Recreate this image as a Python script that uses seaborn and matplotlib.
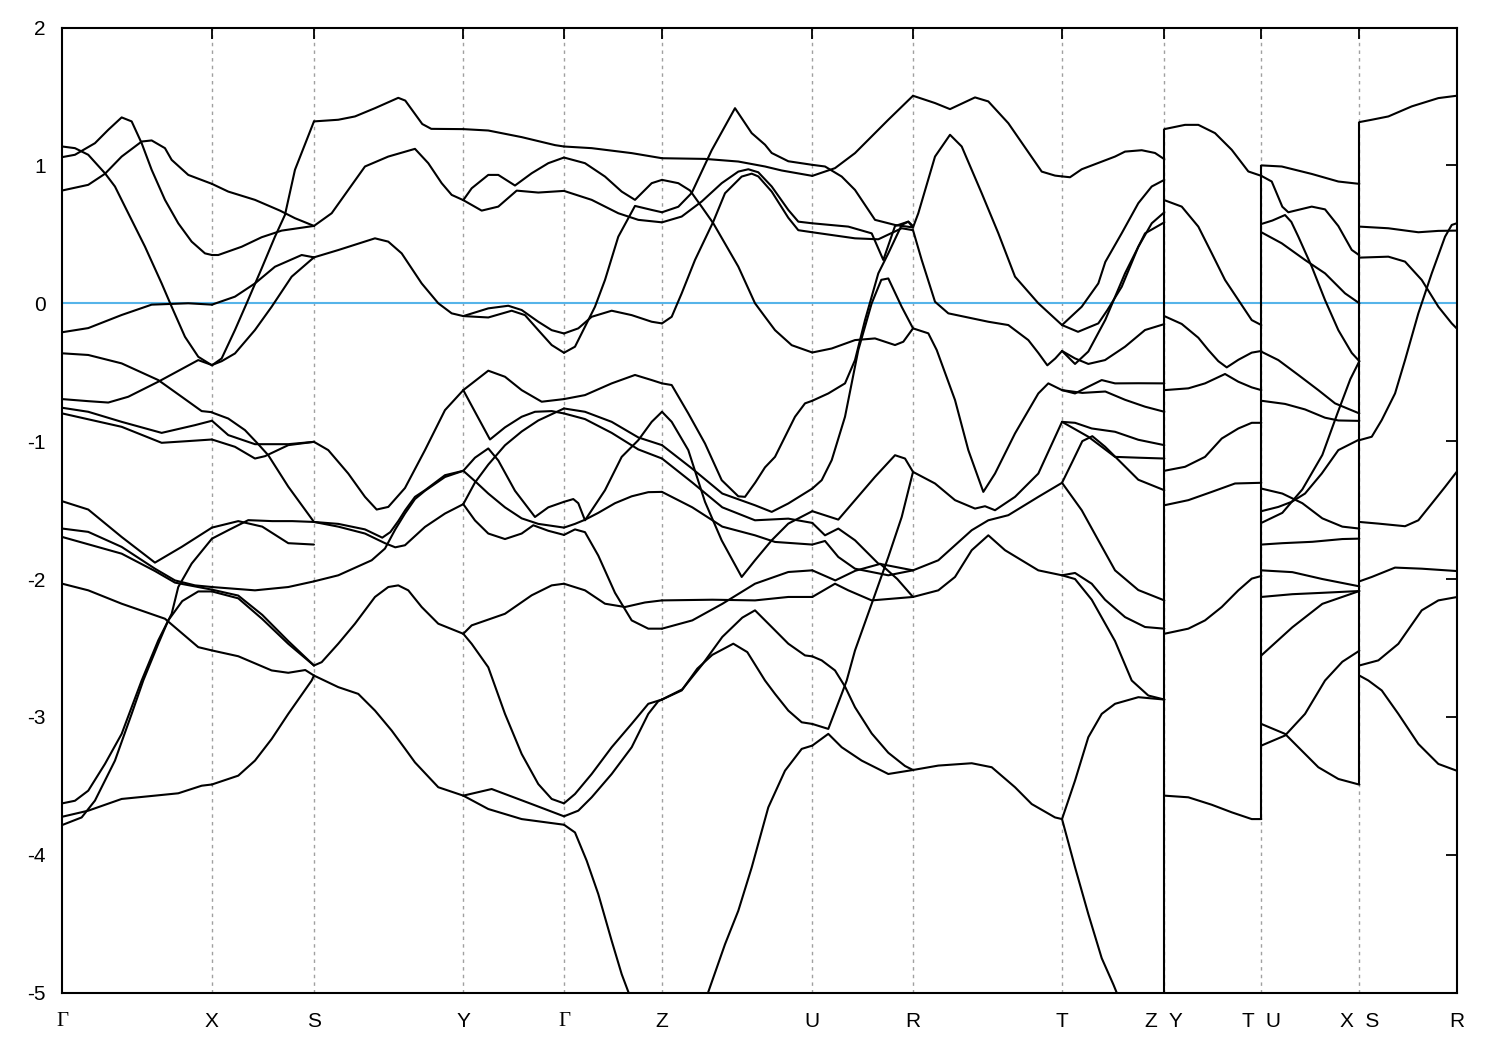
import matplotlib
matplotlib.use("Agg")
import matplotlib.pyplot as plt
import seaborn as sns
import pandas as pd

# high-symmetry points along the k path
sym_k = [0.0, 1.497, 2.517, 4.010, 5.017, 5.997, 7.500, 8.507, 9.997, 11.020, 11.990, 12.970, 13.943]
sym_labels = ["Γ", "X", "S", "Y", "Γ", "Z", "U", "R", "T", "Z  Y", "T  U", "X  S", "R"]
path_breaks = [11.020, 11.990, 12.970]

# band pieces, one list per path segment, points are (k, E)
seg_gx = [
    [(0, 1.137), (0.127, 1.125), (0.26, 1.077), (0.427, 0.943), (0.527, 0.847), (0.627, 0.701), (0.827, 0.411), (0.994, 0.144), (1.094, -0.025), (1.227, -0.243), (1.36, -0.388), (1.497, -0.45)],
    [(0, 1.06), (0.127, 1.077), (0.327, 1.161), (0.46, 1.258), (0.594, 1.348), (0.694, 1.319), (0.794, 1.161), (0.894, 0.968), (1.027, 0.75), (1.16, 0.58), (1.294, 0.447), (1.427, 0.362), (1.497, 0.35)],
    [(0, 0.818), (0.26, 0.859), (0.427, 0.939), (0.594, 1.064), (0.794, 1.173), (0.894, 1.181), (1.027, 1.125), (1.094, 1.04), (1.26, 0.931), (1.497, 0.866)],
    [(0, -0.21), (0.26, -0.18), (0.594, -0.085), (0.894, -0.01), (1.26, 0.0), (1.497, -0.01)],
    [(0, -0.363), (0.26, -0.375), (0.594, -0.436), (0.96, -0.557), (1.194, -0.678), (1.394, -0.782), (1.497, -0.79)],
    [(0, -0.695), (0.26, -0.71), (0.46, -0.72), (0.66, -0.678), (0.96, -0.569), (1.36, -0.412), (1.497, -0.448)],
    [(0, -0.758), (0.26, -0.787), (0.594, -0.86), (0.994, -0.94), (1.327, -0.884), (1.497, -0.852)],
    [(0, -0.799), (0.594, -0.896), (0.994, -1.012), (1.25, -1.0), (1.497, -0.988)],
    [(0, -1.436), (0.26, -1.496), (0.594, -1.695), (0.927, -1.881), (1.194, -1.767), (1.497, -1.627)],
    [(0, -1.634), (0.26, -1.658), (0.594, -1.767), (0.927, -1.925), (1.127, -2.01), (1.327, -2.046), (1.497, -2.058)],
    [(0, -1.695), (0.594, -1.816), (0.927, -1.942), (1.127, -2.026), (1.497, -2.077)],
    [(0, -2.034), (0.26, -2.082), (0.594, -2.179), (1.027, -2.288), (1.36, -2.494), (1.497, -2.518)],
    [(0, -3.627), (0.127, -3.608), (0.26, -3.535), (0.427, -3.341), (0.594, -3.123), (0.794, -2.736), (0.96, -2.445), (1.094, -2.252), (1.16, -2.058), (1.294, -1.888), (1.497, -1.707)],
    [(0, -3.784), (0.194, -3.729), (0.327, -3.607), (0.527, -3.317), (0.694, -2.978), (0.81, -2.736), (0.96, -2.47), (1.06, -2.30), (1.2, -2.16), (1.36, -2.09), (1.497, -2.09)],
    [(0, -3.724), (0.26, -3.68), (0.594, -3.595), (0.927, -3.571), (1.16, -3.554), (1.394, -3.499), (1.497, -3.49)],
]

seg_xs = [
    [(1.497, -0.45), (1.594, -0.40), (1.727, -0.194), (1.844, 0.0), (1.994, 0.253), (2.127, 0.483), (2.227, 0.641), (2.327, 0.968), (2.517, 1.319)],
    [(1.497, 0.866), (1.66, 0.81), (1.927, 0.75), (2.177, 0.672), (2.327, 0.617), (2.517, 0.561)],
    [(1.497, 0.35), (1.56, 0.35), (1.794, 0.41), (1.994, 0.479), (2.194, 0.527), (2.517, 0.561)],
    [(1.497, -0.01), (1.727, 0.048), (1.927, 0.144), (2.127, 0.265), (2.394, 0.35), (2.517, 0.333)],
    [(1.497, -0.448), (1.594, -0.42), (1.727, -0.364), (1.927, -0.194), (2.094, -0.025), (2.294, 0.193), (2.517, 0.333)],
    [(1.497, -0.792), (1.66, -0.836), (1.827, -0.92), (1.96, -1.022), (2.06, -1.102), (2.26, -1.33), (2.517, -1.586)],
    [(1.497, -0.852), (1.66, -0.956), (1.927, -1.022), (2.26, -1.022), (2.517, -1.005)],
    [(1.497, -0.988), (1.727, -1.041), (1.927, -1.126), (2.027, -1.109), (2.26, -1.029), (2.517, -1.005)],
    [(1.497, -1.627), (1.76, -1.58), (2.0, -1.62), (2.26, -1.74), (2.517, -1.75)],
    [(1.497, -1.707), (1.66, -1.646), (1.86, -1.573), (2.1, -1.58), (2.3, -1.58), (2.517, -1.586)],
    [(1.497, -2.058), (1.927, -2.082), (2.26, -2.058), (2.517, -2.017)],
    [(1.497, -2.077), (1.76, -2.12), (2.0, -2.26), (2.26, -2.45), (2.517, -2.627)],
    [(1.497, -2.09), (1.76, -2.14), (2.0, -2.29), (2.26, -2.47), (2.517, -2.627)],
    [(1.497, -2.518), (1.76, -2.56), (2.094, -2.663), (2.26, -2.68), (2.43, -2.66), (2.517, -2.70)],
    [(1.497, -3.49), (1.76, -3.426), (1.927, -3.317), (2.094, -3.16), (2.26, -2.978), (2.494, -2.736), (2.517, -2.70)],
]

seg_sy = [
    [(2.517, 1.319), (2.76, 1.331), (2.927, 1.355), (3.127, 1.415), (3.36, 1.49), (3.43, 1.47), (3.53, 1.37), (3.60, 1.30), (3.69, 1.265), (4.01, 1.263)],
    [(2.517, 0.561), (2.694, 0.653), (2.86, 0.822), (3.027, 0.992), (3.26, 1.064), (3.527, 1.12), (3.66, 1.016), (3.794, 0.871), (3.894, 0.786), (4.01, 0.748)],
    [(2.517, 0.333), (2.76, 0.386), (3.127, 0.471), (3.26, 0.447), (3.394, 0.362), (3.46, 0.29), (3.594, 0.144), (3.76, 0.0), (3.894, -0.073), (4.01, -0.093)],
    [(2.517, -1.005), (2.66, -1.065), (2.86, -1.235), (3.027, -1.404), (3.144, -1.496), (3.26, -1.477), (3.427, -1.34), (3.627, -1.065), (3.827, -0.775), (4.01, -0.63)],
    [(2.517, -1.586), (2.76, -1.62), (3.027, -1.67), (3.227, -1.74), (3.33, -1.77), (3.427, -1.755), (3.627, -1.622), (3.827, -1.525), (4.01, -1.457)],
    [(2.517, -1.586), (2.76, -1.60), (3.027, -1.64), (3.2, -1.70), (3.28, -1.66), (3.36, -1.58), (3.43, -1.50), (3.527, -1.404), (3.627, -1.356), (3.827, -1.247), (4.01, -1.215)],
    [(2.517, -2.017), (2.76, -1.973), (3.094, -1.864), (3.227, -1.779), (3.33, -1.64), (3.427, -1.525), (3.527, -1.42), (3.627, -1.36), (3.827, -1.26), (4.01, -1.215)],
    [(2.517, -2.627), (2.594, -2.603), (2.76, -2.469), (2.927, -2.324), (3.127, -2.13), (3.26, -2.058), (3.36, -2.046), (3.46, -2.082), (3.594, -2.203), (3.76, -2.324), (4.01, -2.397)],
    [(2.517, -2.70), (2.76, -2.784), (2.96, -2.833), (3.127, -2.954), (3.294, -3.099), (3.427, -3.23), (3.527, -3.33), (3.76, -3.51), (4.01, -3.571)],
]

seg_yg = [
    [(4.01, 1.263), (4.26, 1.253), (4.594, 1.205), (4.927, 1.147), (5.017, 1.137)],
    [(4.01, 0.748), (4.094, 0.834), (4.26, 0.931), (4.36, 0.931), (4.527, 0.854), (4.694, 0.943), (4.86, 1.016), (5.017, 1.057)],
    [(4.01, 0.748), (4.194, 0.672), (4.36, 0.701), (4.544, 0.817), (4.76, 0.803), (5.017, 0.815)],
    [(4.01, -0.093), (4.26, -0.037), (4.46, -0.018), (4.594, -0.049), (4.76, -0.134), (4.894, -0.195), (5.017, -0.219)],
    [(4.01, -0.093), (4.26, -0.103), (4.494, -0.054), (4.627, -0.086), (4.76, -0.195), (4.894, -0.303), (5.017, -0.359)],
    [(4.01, -0.63), (4.26, -0.489), (4.427, -0.533), (4.594, -0.63), (4.794, -0.714), (5.017, -0.695)],
    [(4.01, -0.63), (4.144, -0.81), (4.277, -0.988), (4.427, -0.90), (4.594, -0.823), (4.727, -0.787), (4.894, -0.782), (5.017, -0.799)],
    [(4.01, -1.215), (4.127, -1.12), (4.26, -1.053), (4.36, -1.14), (4.527, -1.36), (4.727, -1.55), (4.86, -1.48), (5.017, -1.44)],
    [(4.01, -1.215), (4.127, -1.29), (4.26, -1.38), (4.427, -1.48), (4.594, -1.56), (4.76, -1.60), (5.017, -1.627)],
    [(4.01, -1.457), (4.127, -1.575), (4.26, -1.67), (4.427, -1.71), (4.594, -1.67), (4.71, -1.61), (4.86, -1.65), (5.017, -1.68)],
    [(4.01, -1.457), (4.127, -1.30), (4.26, -1.17), (4.427, -1.03), (4.594, -0.93), (4.76, -0.85), (5.017, -0.763)],
    [(4.01, -2.397), (4.094, -2.336), (4.427, -2.252), (4.694, -2.118), (4.894, -2.046), (5.017, -2.034)],
    [(4.01, -2.397), (4.094, -2.47), (4.26, -2.64), (4.427, -2.978), (4.594, -3.269), (4.76, -3.487), (4.894, -3.595), (5.017, -3.627)],
    [(4.01, -3.571), (4.294, -3.523), (4.694, -3.632), (5.017, -3.721)],
    [(4.01, -3.571), (4.26, -3.668), (4.594, -3.741), (5.017, -3.782)],
]

seg_gz = [
    [(5.017, 1.137), (5.294, 1.125), (5.694, 1.089), (5.997, 1.052)],
    [(5.017, 1.057), (5.227, 1.016), (5.427, 0.919), (5.594, 0.81), (5.727, 0.75), (5.894, 0.871), (5.997, 0.895)],
    [(5.017, 0.815), (5.294, 0.75), (5.56, 0.653), (5.76, 0.605), (5.997, 0.587)],
    [(5.017, -0.219), (5.16, -0.182), (5.294, -0.098), (5.494, -0.054), (5.694, -0.086), (5.894, -0.134), (5.997, -0.146)],
    [(5.017, -0.359), (5.127, -0.315), (5.227, -0.17), (5.327, -0.025), (5.427, 0.169), (5.56, 0.483), (5.727, 0.706), (5.894, 0.677), (5.997, 0.66)],
    [(5.017, -0.695), (5.227, -0.666), (5.494, -0.581), (5.727, -0.52), (5.894, -0.557), (5.997, -0.581)],
    [(5.017, -0.763), (5.227, -0.787), (5.494, -0.86), (5.76, -0.973), (5.997, -1.029)],
    [(5.017, -0.799), (5.227, -0.84), (5.494, -0.94), (5.76, -1.06), (5.997, -1.126)],
    [(5.017, -1.44), (5.11, -1.42), (5.16, -1.45), (5.227, -1.574), (5.427, -1.356), (5.594, -1.114), (5.76, -0.993), (5.894, -0.86), (5.997, -0.787)],
    [(5.017, -1.627), (5.127, -1.60), (5.227, -1.57), (5.36, -1.52), (5.527, -1.45), (5.694, -1.40), (5.86, -1.37), (5.997, -1.368)],
    [(5.017, -1.68), (5.127, -1.64), (5.227, -1.66), (5.36, -1.83), (5.527, -2.10), (5.694, -2.30), (5.86, -2.36), (5.997, -2.36)],
    [(5.017, -2.034), (5.227, -2.082), (5.427, -2.179), (5.627, -2.203), (5.827, -2.17), (5.997, -2.155)],
    [(5.017, -3.627), (5.127, -3.559), (5.294, -3.414), (5.494, -3.22), (5.694, -3.05), (5.86, -2.905), (5.997, -2.874)],
    [(5.017, -3.721), (5.16, -3.68), (5.294, -3.583), (5.494, -3.414), (5.694, -3.22), (5.86, -2.978), (5.96, -2.886), (5.997, -2.874)],
    [(5.017, -3.782), (5.127, -3.838), (5.244, -4.043), (5.36, -4.285), (5.494, -4.624), (5.594, -4.866), (5.667, -5.007), (5.8, -5.35), (5.997, -5.75)],
]

seg_zu = [
    [(5.997, 1.052), (6.427, 1.047), (6.76, 1.028), (7.027, 0.992), (7.194, 0.963), (7.50, 0.924)],
    [(5.997, 0.66), (6.16, 0.70), (6.294, 0.80), (6.494, 1.11), (6.727, 1.415), (6.894, 1.234), (7.027, 1.15), (7.094, 1.09), (7.26, 1.03), (7.50, 1.004)],
    [(5.997, 0.895), (6.16, 0.871), (6.277, 0.818), (6.394, 0.70), (6.51, 0.58), (6.76, 0.266), (6.927, 0.0), (7.027, -0.098), (7.127, -0.195), (7.294, -0.304), (7.50, -0.357)],
    [(5.997, 0.587), (6.194, 0.629), (6.394, 0.738), (6.594, 0.871), (6.76, 0.955), (6.86, 0.972), (6.96, 0.95), (7.094, 0.847), (7.26, 0.677), (7.36, 0.592), (7.50, 0.58)],
    [(5.997, -0.146), (6.094, -0.098), (6.194, 0.072), (6.327, 0.314), (6.51, 0.592), (6.627, 0.798), (6.794, 0.919), (6.894, 0.94), (6.96, 0.92), (7.094, 0.81), (7.26, 0.62), (7.36, 0.53), (7.50, 0.515)],
    [(5.997, -0.581), (6.094, -0.593), (6.26, -0.799), (6.427, -1.017), (6.594, -1.283), (6.76, -1.40), (6.827, -1.404), (6.93, -1.30), (7.027, -1.19), (7.127, -1.114), (7.327, -0.823), (7.427, -0.726), (7.50, -0.707)],
    [(5.997, -0.787), (6.094, -0.86), (6.26, -1.065), (6.427, -1.44), (6.594, -1.72), (6.794, -1.985), (6.927, -1.864), (7.094, -1.719), (7.26, -1.598), (7.50, -1.508)],
    [(5.997, -1.029), (6.3, -1.2), (6.6, -1.38), (6.927, -1.465), (7.094, -1.513), (7.26, -1.452), (7.5, -1.344)],
    [(5.997, -1.126), (6.3, -1.30), (6.6, -1.48), (6.927, -1.574), (7.26, -1.562), (7.5, -1.593)],
    [(5.997, -1.368), (6.3, -1.48), (6.6, -1.62), (6.927, -1.683), (7.127, -1.731), (7.5, -1.75)],
    [(5.997, -2.155), (6.5, -2.15), (6.927, -2.155), (7.26, -2.13), (7.5, -2.13)],
    [(5.997, -2.36), (6.3, -2.30), (6.6, -2.18), (6.927, -2.034), (7.26, -1.949), (7.5, -1.937)],
    [(5.997, -2.874), (6.194, -2.808), (6.35, -2.65), (6.5, -2.55), (6.71, -2.469), (6.85, -2.53), (7.027, -2.736), (7.127, -2.833), (7.26, -2.954), (7.394, -3.039), (7.5, -3.051)],
    [(5.997, -2.874), (6.2, -2.80), (6.4, -2.62), (6.6, -2.42), (6.8, -2.28), (6.927, -2.227), (7.094, -2.348), (7.26, -2.469), (7.427, -2.554), (7.5, -2.561)],
    [(5.997, -5.75), (6.2, -5.5), (6.454, -5.007), (6.627, -4.649), (6.76, -4.406), (6.894, -4.092), (7.06, -3.656), (7.227, -3.39), (7.394, -3.232), (7.5, -3.208)],
]

seg_ur = [
    [(7.50, 0.924), (7.727, 0.98), (7.927, 1.089), (8.26, 1.331), (8.507, 1.505)],
    [(7.50, 1.004), (7.627, 0.992), (7.794, 0.919), (7.927, 0.822), (8.127, 0.605), (8.327, 0.568), (8.507, 0.55)],
    [(7.50, 0.58), (7.86, 0.556), (8.094, 0.507), (8.21, 0.314), (8.327, 0.56), (8.46, 0.592), (8.507, 0.55)],
    [(7.50, 0.515), (7.927, 0.471), (8.16, 0.464), (8.394, 0.544), (8.507, 0.53)],
    [(7.50, -0.357), (7.694, -0.328), (7.927, -0.267), (8.127, -0.255), (8.327, -0.303), (8.41, -0.279), (8.507, -0.182)],
    [(7.50, -0.707), (7.66, -0.654), (7.827, -0.581), (7.927, -0.412), (8.027, -0.122), (8.16, 0.217), (8.26, 0.362), (8.394, 0.568), (8.46, 0.592), (8.507, 0.56)],
    [(7.50, -1.344), (7.594, -1.283), (7.694, -1.138), (7.827, -0.823), (7.96, -0.339), (8.094, 0.0), (8.19, 0.17), (8.26, 0.18), (8.394, -0.026), (8.507, -0.182)],
    [(7.50, -1.508), (7.76, -1.569), (7.927, -1.428), (8.127, -1.259), (8.327, -1.102), (8.427, -1.126), (8.507, -1.223)],
    [(7.50, -1.593), (7.627, -1.683), (7.76, -1.634), (7.927, -1.719), (8.16, -1.888), (8.507, -1.937)],
    [(7.50, -1.75), (7.627, -1.724), (7.76, -1.84), (7.927, -1.925), (8.26, -1.973), (8.507, -1.937)],
    [(7.50, -1.937), (7.73, -2.01), (7.93, -1.94), (8.18, -1.89), (8.35, -2.0), (8.507, -2.13)],
    [(7.50, -2.13), (7.727, -2.034), (7.86, -2.082), (8.094, -2.155), (8.507, -2.13)],
    [(7.50, -2.561), (7.594, -2.59), (7.727, -2.663), (7.827, -2.78), (7.927, -2.93), (8.094, -3.12), (8.26, -3.26), (8.427, -3.356), (8.507, -3.385)],
    [(7.50, -3.051), (7.66, -3.087), (7.794, -2.833), (7.844, -2.736), (7.927, -2.518), (8.094, -2.179), (8.26, -1.84), (8.394, -1.55), (8.507, -1.223)],
    [(7.50, -3.208), (7.66, -3.123), (7.794, -3.22), (7.994, -3.317), (8.26, -3.414), (8.507, -3.385)],
]

seg_rt = [
    [(8.507, 1.505), (8.727, 1.452), (8.877, 1.408), (9.127, 1.493), (9.26, 1.464), (9.46, 1.306), (9.794, 0.955), (9.927, 0.926), (9.997, 0.92)],
    [(8.507, 0.55), (8.56, 0.653), (8.727, 1.064), (8.877, 1.222), (8.994, 1.137), (9.194, 0.798), (9.36, 0.508), (9.527, 0.193), (9.76, 0.0), (9.997, -0.158)],
    [(8.507, 0.53), (8.594, 0.314), (8.727, 0.011), (8.86, -0.073), (9.26, -0.134), (9.46, -0.158), (9.66, -0.267), (9.76, -0.36), (9.85, -0.45), (9.93, -0.40), (9.997, -0.346)],
    [(8.507, -0.182), (8.66, -0.218), (8.744, -0.339), (8.927, -0.702), (9.06, -1.065), (9.21, -1.368), (9.327, -1.235), (9.527, -0.944), (9.76, -0.654), (9.86, -0.581), (9.997, -0.63)],
    [(8.507, -1.223), (8.727, -1.307), (8.927, -1.428), (9.127, -1.489), (9.227, -1.472), (9.327, -1.501), (9.527, -1.404), (9.76, -1.235), (9.997, -0.86)],
    [(8.507, -1.937), (8.76, -1.864), (9.094, -1.646), (9.26, -1.574), (9.46, -1.537), (9.76, -1.404), (9.997, -1.302)],
    [(8.507, -2.13), (8.76, -2.082), (8.927, -1.985), (9.094, -1.791), (9.26, -1.683), (9.427, -1.791), (9.76, -1.937), (9.997, -1.973)],
    [(8.507, -3.385), (8.76, -3.353), (9.094, -3.336), (9.294, -3.365), (9.527, -3.51), (9.694, -3.632), (9.927, -3.729), (9.997, -3.741)],
]

seg_tz = [
    [(9.997, 0.92), (10.077, 0.914), (10.194, 0.972), (10.527, 1.064), (10.627, 1.10), (10.794, 1.11), (10.927, 1.09), (11.02, 1.045)],
    [(9.997, -0.158), (10.194, -0.025), (10.36, 0.144), (10.43, 0.30), (10.594, 0.508), (10.76, 0.726), (10.894, 0.847), (11.02, 0.895)],
    [(9.997, -0.158), (10.157, -0.207), (10.36, -0.146), (10.45, -0.05), (10.594, 0.12), (10.76, 0.41), (10.894, 0.58), (11.02, 0.66)],
    [(9.997, -0.346), (10.127, -0.44), (10.26, -0.35), (10.43, -0.12), (10.627, 0.217), (10.827, 0.507), (11.02, 0.587)],
    [(9.997, -0.346), (10.127, -0.40), (10.26, -0.44), (10.427, -0.412), (10.627, -0.315), (10.827, -0.194), (11.02, -0.151)],
    [(9.997, -0.63), (10.127, -0.654), (10.26, -0.605), (10.394, -0.557), (10.527, -0.581), (10.76, -0.58), (11.02, -0.581)],
    [(9.997, -0.63), (10.2, -0.65), (10.43, -0.64), (10.627, -0.70), (10.827, -0.75), (11.02, -0.787)],
    [(9.997, -0.86), (10.127, -0.867), (10.294, -0.908), (10.527, -0.932), (10.76, -0.99), (11.02, -1.029)],
    [(9.997, -0.86), (10.26, -0.968), (10.394, -1.041), (10.527, -1.114), (10.76, -1.12), (11.02, -1.126)],
    [(9.997, -1.302), (10.1, -1.15), (10.2, -1.0), (10.3, -0.964), (10.427, -1.04), (10.594, -1.16), (10.76, -1.28), (11.02, -1.356)],
    [(9.997, -1.302), (10.194, -1.501), (10.36, -1.719), (10.527, -1.937), (10.76, -2.08), (11.02, -2.155)],
    [(9.997, -1.973), (10.127, -1.956), (10.294, -2.034), (10.427, -2.15), (10.627, -2.276), (10.827, -2.348), (11.02, -2.36)],
    [(9.997, -1.973), (10.127, -2.0), (10.294, -2.15), (10.527, -2.45), (10.694, -2.736), (10.86, -2.845), (11.02, -2.874)],
    [(9.997, -3.741), (10.127, -3.462), (10.26, -3.147), (10.394, -2.978), (10.527, -2.905), (10.76, -2.857), (11.02, -2.874)],
    [(9.997, -3.741), (10.127, -4.09), (10.26, -4.43), (10.394, -4.75), (10.51, -4.94), (10.6, -5.1), (11.02, -5.75)],
]

seg_yt = [
    [(11.02, 1.263), (11.227, 1.294), (11.36, 1.294), (11.527, 1.234), (11.694, 1.113), (11.86, 0.956), (11.99, 0.924)],
    [(11.02, 0.748), (11.194, 0.701), (11.36, 0.556), (11.494, 0.363), (11.627, 0.169), (11.76, 0.024), (11.894, -0.122), (11.99, -0.158)],
    [(11.02, -0.093), (11.194, -0.15), (11.36, -0.25), (11.46, -0.339), (11.56, -0.42), (11.644, -0.465), (11.76, -0.41), (11.894, -0.358), (11.99, -0.346)],
    [(11.02, -0.63), (11.26, -0.617), (11.427, -0.581), (11.627, -0.513), (11.76, -0.569), (11.894, -0.61), (11.99, -0.63)],
    [(11.02, -1.215), (11.227, -1.186), (11.427, -1.114), (11.594, -0.981), (11.76, -0.908), (11.894, -0.867), (11.99, -0.867)],
    [(11.02, -1.465), (11.26, -1.428), (11.494, -1.368), (11.727, -1.307), (11.99, -1.302)],
    [(11.02, -2.397), (11.26, -2.36), (11.427, -2.30), (11.594, -2.203), (11.76, -2.082), (11.894, -1.997), (11.99, -1.978)],
    [(11.02, -3.571), (11.26, -3.583), (11.494, -3.637), (11.694, -3.692), (11.894, -3.741), (11.99, -3.741)],
]

seg_ux = [
    [(11.99, 1.0), (12.194, 0.992), (12.494, 0.938), (12.76, 0.883), (12.97, 0.866)],
    [(11.99, 0.924), (12.094, 0.883), (12.2, 0.70), (12.26, 0.66), (12.494, 0.701), (12.627, 0.681), (12.76, 0.56), (12.894, 0.387), (12.97, 0.348)],
    [(11.99, 0.575), (12.1, 0.60), (12.227, 0.64), (12.29, 0.59), (12.36, 0.483), (12.494, 0.266), (12.627, 0.023), (12.76, -0.195), (12.894, -0.36), (12.97, -0.42)],
    [(11.99, 0.515), (12.194, 0.435), (12.427, 0.314), (12.627, 0.217), (12.827, 0.072), (12.97, 0.0)],
    [(11.99, -0.351), (12.16, -0.412), (12.36, -0.52), (12.56, -0.63), (12.727, -0.726), (12.97, -0.799)],
    [(11.99, -0.707), (12.227, -0.73), (12.427, -0.77), (12.627, -0.83), (12.76, -0.85), (12.97, -0.853)],
    [(11.99, -1.344), (12.2, -1.38), (12.4, -1.45), (12.6, -1.56), (12.8, -1.62), (12.97, -1.634)],
    [(11.99, -1.508), (12.16, -1.477), (12.294, -1.44), (12.427, -1.38), (12.594, -1.235), (12.76, -1.065), (12.97, -0.988)],
    [(11.99, -1.593), (12.2, -1.52), (12.4, -1.35), (12.6, -1.1), (12.75, -0.80), (12.88, -0.55), (12.97, -0.42)],
    [(11.99, -1.75), (12.2, -1.74), (12.5, -1.73), (12.8, -1.71), (12.97, -1.707)],
    [(11.99, -1.937), (12.3, -1.95), (12.6, -2.0), (12.97, -2.053)],
    [(11.99, -2.13), (12.3, -2.11), (12.6, -2.10), (12.97, -2.087)],
    [(11.99, -2.554), (12.3, -2.35), (12.6, -2.18), (12.97, -2.087)],
    [(11.99, -3.051), (12.227, -3.123), (12.36, -3.22), (12.56, -3.365), (12.76, -3.45), (12.97, -3.491)],
    [(11.99, -3.208), (12.227, -3.135), (12.427, -2.978), (12.627, -2.736), (12.8, -2.6), (12.97, -2.52)],
]

seg_sr = [
    [(12.97, 1.314), (13.094, 1.331), (13.26, 1.355), (13.494, 1.428), (13.76, 1.488), (13.943, 1.505)],
    [(12.97, 0.556), (13.26, 0.544), (13.56, 0.515), (13.76, 0.525), (13.943, 0.527)],
    [(12.97, 0.331), (13.26, 0.338), (13.427, 0.302), (13.594, 0.169), (13.76, -0.025), (13.894, -0.146), (13.943, -0.182)],
    [(12.97, -0.993), (13.094, -0.968), (13.194, -0.847), (13.327, -0.654), (13.427, -0.412), (13.56, -0.073), (13.694, 0.217), (13.827, 0.483), (13.894, 0.568), (13.943, 0.58)],
    [(12.97, -1.586), (13.16, -1.598), (13.427, -1.617), (13.56, -1.574), (13.694, -1.453), (13.827, -1.332), (13.943, -1.223)],
    [(12.97, -2.017), (13.094, -1.985), (13.327, -1.917), (13.594, -1.925), (13.943, -1.942)],
    [(12.97, -2.627), (13.16, -2.59), (13.36, -2.47), (13.594, -2.227), (13.76, -2.155), (13.943, -2.131)],
    [(12.97, -2.70), (13.06, -2.736), (13.194, -2.808), (13.36, -2.978), (13.56, -3.196), (13.76, -3.341), (13.943, -3.39)],
]

segments = [seg_gx, seg_xs, seg_sy, seg_yg, seg_gz, seg_zu, seg_ur, seg_rt, seg_tz, seg_yt, seg_ux, seg_sr]

rows = []
for s, seg in enumerate(segments):
    for p, piece in enumerate(seg):
        for k, e in piece:
            rows.append((f"{s}-{p}", k, e))
bands = pd.DataFrame(rows, columns=["piece", "k", "E"])

sns.set_theme(style="white")
plt.rcParams["font.family"] = ["Liberation Sans", "DejaVu Sans"]
plt.rcParams["axes.unicode_minus"] = False

fig = plt.figure(figsize=(15, 10.5), dpi=100)
ax = fig.add_axes([0.0415, 0.0546, 0.9296, 0.9192])

for k in sym_k[1:-1]:
    ax.axvline(k, color="#a0a0a0", lw=1, ls=(0, (2.5, 3)), zorder=0)
ax.axhline(0, color="#56b4e9", lw=1.5, zorder=1)

sns.lineplot(data=bands, x="k", y="E", units="piece", estimator=None, sort=False,
             color="black", linewidth=1.5, legend=False, ax=ax, zorder=2)

# jumps where the path is broken
for kb in path_breaks:
    ends = bands.loc[(bands["k"] - kb).abs() < 1e-6, "E"]
    ax.vlines(kb, ends.min(), ends.max(), color="black", lw=1.5, zorder=2)

ax.set_xlim(sym_k[0], sym_k[-1])
ax.set_ylim(-5, 2)
ax.set_xticks(sym_k)
ax.set_xticklabels(sym_labels)
for lab in ax.get_xticklabels():
    if lab.get_text() == "Γ":
        lab.set_fontfamily(["Liberation Serif", "DejaVu Serif"])
ax.set_yticks(range(-5, 3))
ax.tick_params(axis="both", direction="in", length=8, width=1.3, top=True, right=True,
               labelsize=15, colors="black")
ax.tick_params(axis="x", pad=14)
ax.tick_params(axis="y", pad=12)
ax.set_xlabel("")
ax.set_ylabel("")
for sp in ax.spines.values():
    sp.set_color("black")
    sp.set_linewidth(1.5)

fig.savefig("out.png", dpi=100, facecolor="white")
